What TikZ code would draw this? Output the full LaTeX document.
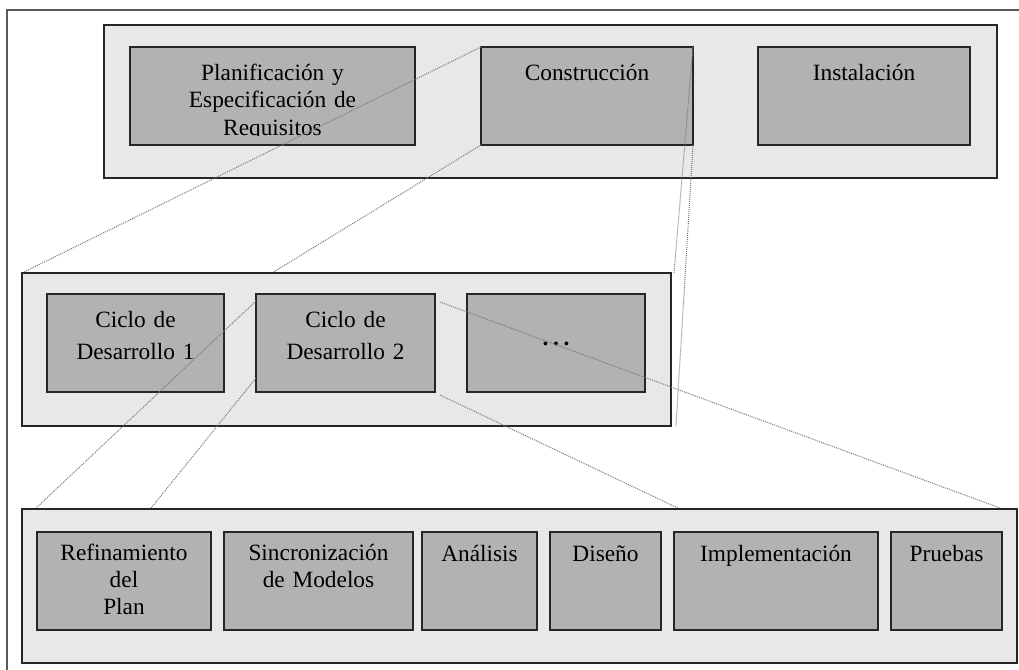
\documentclass[tikz,border=0pt]{standalone}
\usepackage{fontspec}
\setmainfont{Liberation Serif}
\usetikzlibrary{calc}

% drawing order: each row sits above the zoom lines that lead to it
\pgfdeclarelayer{rowA}
\pgfdeclarelayer{linksA}
\pgfdeclarelayer{rowB}
\pgfdeclarelayer{linksB}
\pgfdeclarelayer{rowC}
\pgfsetlayers{rowA,linksA,rowB,linksB,rowC,main}

\definecolor{panelfill}{HTML}{E8E8E8}
\definecolor{stagefill}{HTML}{B2B2B2}
\definecolor{edgecol}{HTML}{262626}
\definecolor{framecol}{HTML}{5A5A5A}
\definecolor{linkcol}{HTML}{7A7A7A}

\tikzset{
  wh/.style 2 args={minimum width=#1*0.75pt, minimum height=#2*0.75pt},
  panel/.style={draw=edgecol, fill=panelfill, line width=1pt, anchor=north west,
                inner sep=0pt, outer sep=0pt},
  stage/.style={draw=edgecol, fill=stagefill, line width=0.9pt, anchor=north west,
                inner sep=0pt, outer sep=0pt},
  stagetext/.style={anchor=base, inner sep=0pt, text width=8cm, align=center},
  toptext/.style={stagetext, font=\fontsize{17.5}{20.8}\selectfont},
  midtext/.style={stagetext, font=\fontsize{17.5}{24}\selectfont},
  bottext/.style={stagetext, font=\fontsize{17.5}{20.3}\selectfont},
  zoomlink/.style={draw=linkcol, line width=0.75pt, dash pattern=on 0.75pt off 0.75pt},
}

\begin{document}
\begin{tikzpicture}[x=0.75pt, y=-0.75pt]
\useasboundingbox (0,0) rectangle (1019,669);

% outer frame
\draw[framecol, line width=1.5pt] (7,690) -- (7,10) -- (1040,10);

% ---- phases of the process
\begin{pgfonlayer}{rowA}
  \node[panel, wh={893}{153}] (phases) at (104,25) {};
  \node[stage, wh={285}{98}] (plan) at (130,47) {};
  \node[stage, wh={212}{98}] (constr) at (481,47) {};
  \node[stage, wh={212}{98}] (inst) at (758,47) {};
  \begin{scope}
    \clip (130,47) rectangle (415,135);
    \node[toptext] (plan-t) at ($(plan.north)+(0,33)$)
      {Planificación y\\Especificación de\\Requisitos};
  \end{scope}
  \node[toptext] (constr-t) at ($(constr.north)+(0,33)$) {Construcción};
  \node[toptext] (inst-t) at ($(inst.north)+(0,33)$) {Instalación};
\end{pgfonlayer}

% ---- development cycles
\begin{pgfonlayer}{rowB}
  \node[panel, wh={649}{153}] (cycles) at (22,273) {};
  \node[stage, wh={177}{98}] (c1) at (47,294) {};
  \node[stage, wh={179}{98}] (c2) at (256,294) {};
  \node[stage, wh={178}{98}] (cmore) at (467,294) {};
  \node[midtext] (c1-t) at ($(c1.north)+(0,33)$) {Ciclo de\\Desarrollo 1};
  \node[midtext] (c2-t) at ($(c2.north)+(0,33)$) {Ciclo de\\Desarrollo 2};
  \node[midtext] (cmore-t) at ($(cmore.center)+(0,2)$)
    {\textbf{.\kern0.2em.\kern0.2em.}};
\end{pgfonlayer}

% ---- activities of one cycle
\begin{pgfonlayer}{rowC}
  \node[panel, wh={995}{154}] (acts) at (22,509) {};
  \node[stage, wh={174}{98}] (a1) at (37,532) {};
  \node[stage, wh={189}{98}] (a2) at (224,532) {};
  \node[stage, wh={115}{98}] (a3) at (422,532) {};
  \node[stage, wh={111}{98}] (a4) at (550,532) {};
  \node[stage, wh={204}{98}] (a5) at (674,532) {};
  \node[stage, wh={111}{98}] (a6) at (891,532) {};
  \node[bottext] (a1-t) at ($(a1.north)+(0,28)$) {Refinamiento\\del\\Plan};
  \node[bottext] (a2-t) at ($(a2.north)+(0,28)$) {Sincronización\\de Modelos};
  \node[bottext] (a3-t) at ($(a3.north)+(0,29)$) {Análisis};
  \node[bottext] (a4-t) at ($(a4.north)+(0,29)$) {Diseño};
  \node[bottext] (a5-t) at ($(a5.north)+(0,29)$) {Implementación};
  \node[bottext] (a6-t) at ($(a6.north)+(0,29)$) {Pruebas};
\end{pgfonlayer}

% ---- zoom lines: Construcción -> cycles
\begin{pgfonlayer}{linksA}
  \draw[zoomlink] (constr.north west) -- (cycles.north west);
  \draw[zoomlink] (constr.south west) -- (cycles.south west);
  \draw[zoomlink] (constr.north east) -- ($(cycles.north east)+(3,0)$);
  \draw[zoomlink] (constr.south east) -- ($(cycles.south east)+(5,0)$);
\end{pgfonlayer}

% ---- zoom lines: Ciclo de Desarrollo 2 -> activities
\begin{pgfonlayer}{linksB}
  \draw[zoomlink] ($(c2.north west)+(0,7)$) -- ($(acts.north west)+(13,0)$);
  \draw[zoomlink] ($(c2.south west)+(0,-14)$) -- ($(acts.south west)+(4,0)$);
  \draw[zoomlink] ($(c2.north east)+(5,8)$) -- ($(acts.north east)+(-17,-1)$);
  \draw[zoomlink] ($(c2.south east)+(5,3)$) -- ($(acts.south east)+(-13,0)$);
\end{pgfonlayer}
\end{tikzpicture}
\end{document}
